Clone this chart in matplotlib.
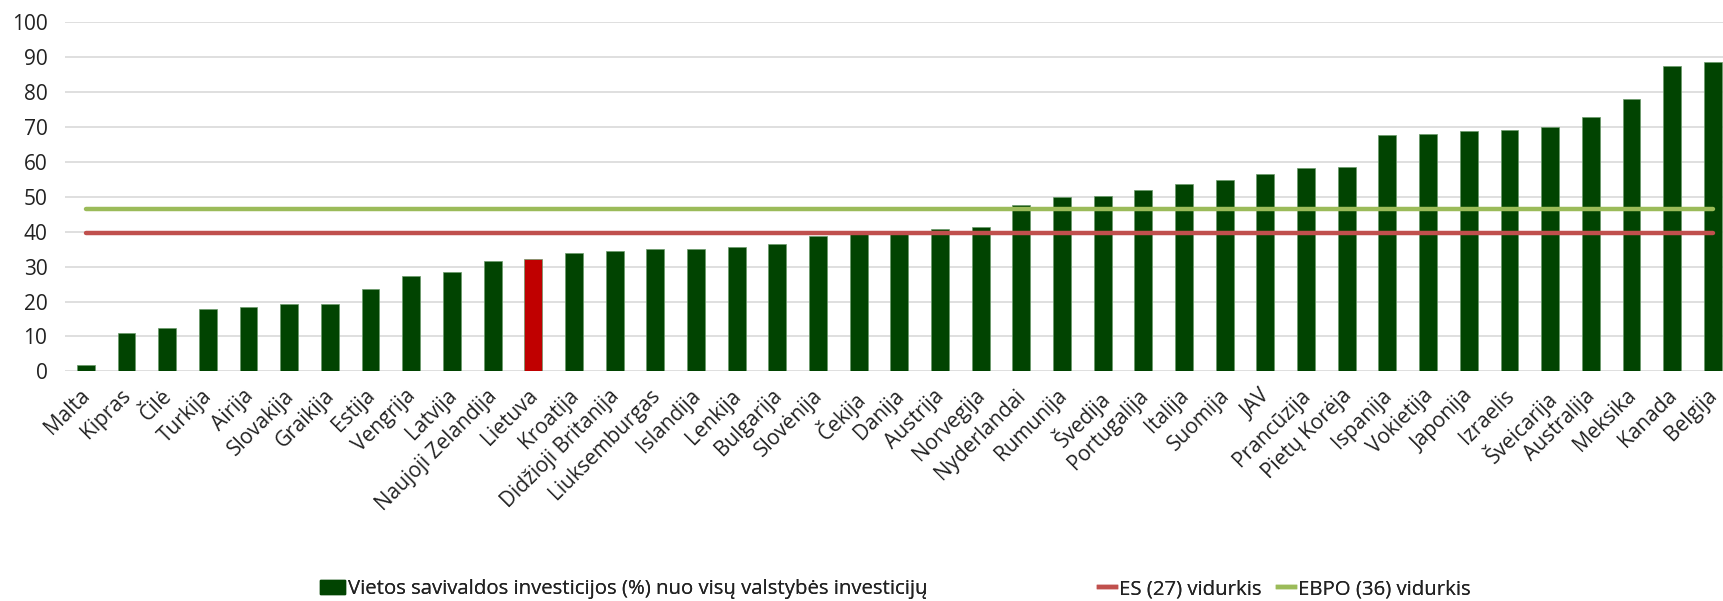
import matplotlib.pyplot as plt
import matplotlib.transforms as mtransforms
from matplotlib.lines import Line2D
from matplotlib.patches import Patch

plt.rcParams['font.family'] = ['Open Sans', 'DejaVu Sans']

# Data
countries = ["Malta", "Kipras", "Čilė", "Turkija", "Airija", "Slovakija", "Graikija",
             "Estija", "Vengrija", "Latvija", "Naujoji Zelandija", "Lietuva", "Kroatija",
             "Didžioji Britanija", "Liuksemburgas", "Islandija", "Lenkija", "Bulgarija",
             "Slovėnija", "Čekija", "Danija", "Austrija", "Norvegija", "Nyderlandai",
             "Rumunija", "Švedija", "Portugalija", "Italija", "Suomija", "JAV",
             "Prancūzija", "Pietų Korėja", "Ispanija", "Vokietija", "Japonija",
             "Izraelis", "Šveicarija", "Australija", "Meksika", "Kanada", "Belgija"]
values = [1.9, 10.9, 12.3, 18.0, 18.5, 19.4, 19.4,
          23.6, 27.2, 28.4, 31.6, 32.3, 33.9,
          34.4, 35.2, 35.2, 35.7, 36.5,
          38.7, 39.3, 39.5, 40.9, 41.3, 47.6,
          50.0, 50.1, 52.0, 53.6, 54.8, 56.6,
          58.2, 58.4, 67.7, 68.0, 68.8,
          69.1, 69.9, 72.8, 77.9, 87.6, 88.7]
es_avg = 39.7
ebpo_avg = 46.5
highlight = "Lietuva"

bar_green = "#014401"
bar_red = "#C00000"
es_color = "#C0504D"
ebpo_color = "#9BBB59"
text_color = "#222222"

fig = plt.figure(figsize=(17.23, 6.01), dpi=100)
ax = fig.add_axes([0.038, 0.382, 0.962, 0.581])

x = list(range(len(countries)))
colors = [bar_red if c == highlight else bar_green for c in countries]
ax.bar(x, values, width=0.44, color=colors, edgecolor="#6a9a6a", linewidth=0.5, zorder=2)

ax.plot([x[0], x[-1]], [es_avg, es_avg], color=es_color, linewidth=3.2, zorder=3,
        solid_capstyle="round")
ax.plot([x[0], x[-1]], [ebpo_avg, ebpo_avg], color=ebpo_color, linewidth=3.2, zorder=3,
        solid_capstyle="round")

ax.set_ylim(0, 100)
ax.set_xlim(-0.5, 40.25)
ax.set_yticks(range(0, 101, 10))
ax.yaxis.grid(True, color="#D9D9D9", linewidth=1.2, zorder=0)
ax.set_axisbelow(True)
for s in ax.spines.values():
    s.set_visible(False)
ax.tick_params(axis="y", length=0, pad=13, labelsize=15, labelcolor=text_color)
ax.tick_params(axis="x", length=0, pad=10, labelsize=15, labelcolor=text_color)
ax.set_xticks(x)
ax.set_xticklabels(countries, rotation=45, ha="right", rotation_mode="anchor")

# nudge the rotated labels a little left so the last one stays inside the figure
shift = mtransforms.ScaledTranslation(-6 / 100, 0, fig.dpi_scale_trans)
for lbl in ax.get_xticklabels():
    lbl.set_transform(lbl.get_transform() + shift)

# legend: three separate entries, placed like the original
entries = [
    (Patch(facecolor=bar_green, edgecolor=bar_green),
     "Vietos savivaldos investicijos (%) nuo visų valstybės investicijų", 0.186, 1.2),
    (Line2D([], [], color=es_color, linewidth=3.2), "ES (27) vidurkis", 0.638, 0.8),
    (Line2D([], [], color=ebpo_color, linewidth=3.2), "EBPO (36) vidurkis", 0.742, 0.8),
]
for handle, label, xpos, hl in entries:
    leg = fig.legend([handle], [label], loc="lower left", bbox_to_anchor=(xpos, 0.003),
                     frameon=False, fontsize=14.7, handlelength=hl, handletextpad=0.15,
                     borderpad=0, borderaxespad=0, labelcolor=text_color)
    fig.add_artist(leg)

fig.savefig("out.png", dpi=100)
